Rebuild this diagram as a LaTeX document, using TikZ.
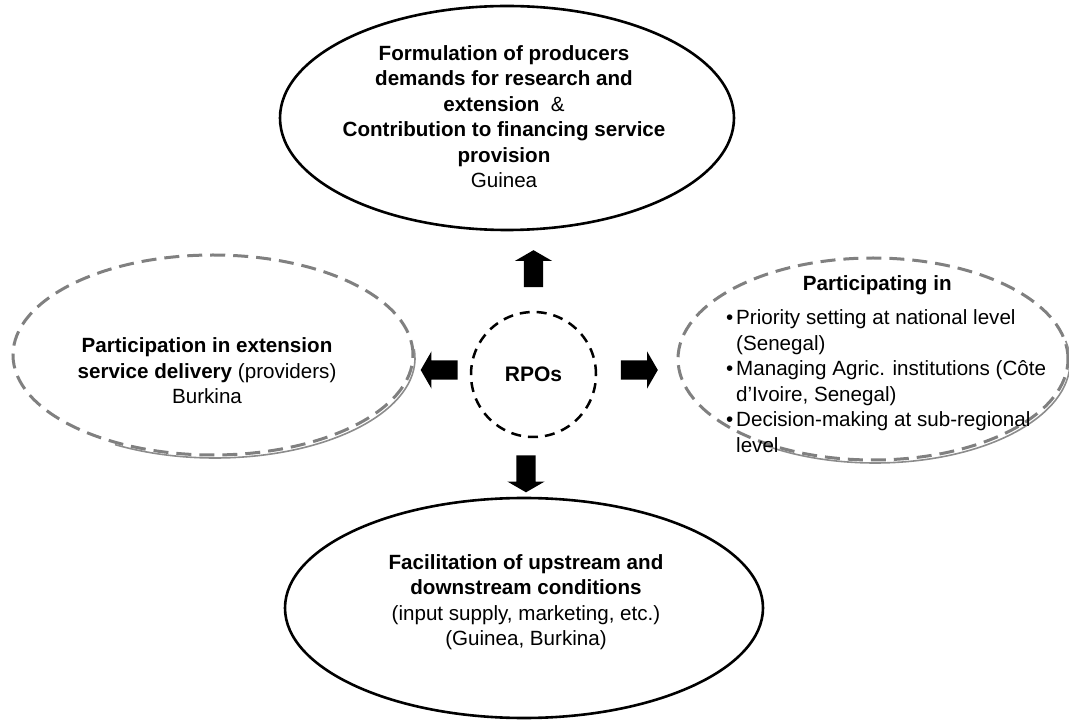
\documentclass[tikz,border=0pt]{standalone}
\usepackage{fontspec}
\setmainfont{Liberation Sans}
\usetikzlibrary{positioning,shapes.geometric,shapes.arrows,calc}

\begin{document}
\begin{tikzpicture}[x=1pt,y=1pt,
        solidell/.style={draw, ellipse, line width=2.6pt, inner sep=0pt},
        grayell/.style={draw=black!50, ellipse, line width=3pt, dash pattern=on 15pt off 8pt, inner sep=0pt},
        shadowline/.style={draw=black!45, line width=1.6pt},
        blockarrow/.style={single arrow, fill=black, inner sep=9.5pt, minimum height=37pt,
            single arrow head extend=9pt, single arrow tip angle=120},
        txt/.style={align=center, font=\fontsize{20.6}{25.5}\selectfont, inner sep=0pt}]
    \useasboundingbox (0,0) rectangle (1069,721);
    % the four fields round the RPOs
    \node[solidell, minimum width=454pt, minimum height=224pt] (top) at (507,603) {};
    \node[grayell, minimum width=400pt, minimum height=200pt] (lft) at (213,366) {};
    \node[grayell, minimum width=390pt, minimum height=202pt] (rgt) at (873,362) {};
    \node[solidell, minimum width=478pt, minimum height=220pt] (bot) at (524,113) {};
    \draw[shadowline] ($(lft.center)+(2,-3)$) ++(5:200 and 100) arc[start angle=5, end angle=-120, x radius=200, y radius=100];
    \draw[shadowline] ($(rgt.center)+(2,-3)$) ++(12:195 and 101) arc[start angle=12, end angle=-125, x radius=195, y radius=101];
    \node[draw, circle, line width=2.5pt, dash pattern=on 10pt off 7pt, minimum size=125pt] (rpo) at (533.5,346.5)
        {\fontsize{21}{25.5}\selectfont\bfseries RPOs};
    \node[txt] (top-txt) at (504,604.5) {\textbf{Formulation of producers}\\ \textbf{demands for research and}\\
        \textbf{extension}\ \ \&\\ \textbf{Contribution to financing service}\\ \textbf{provision}\\ Guinea};
    \node[txt] (lft-txt) at (207,350) {\textbf{Participation in extension}\\ \textbf{service delivery} (providers)\\ Burkina};
    \node[txt, align=left, anchor=north west] (rgt-txt) at (726,445.5) {\makebox[302pt]{\bfseries Participating in}\\[8.5pt]
        \makebox[10pt][l]{•}Priority setting at national level\\
        \hspace*{10pt}(Senegal)\\
        \makebox[10pt][l]{•}Managing Agric. institutions (Côte\\
        \hspace*{10pt}d’Ivoire, Senegal)\\
        \makebox[10pt][l]{•}Decision-making at sub-regional\\
        \hspace*{10pt}level};
    \node[txt] (bot-txt) at (526,119) {\textbf{Facilitation of upstream and}\\ \textbf{downstream conditions}\\
        (input supply, marketing, etc.)\\ (Guinea, Burkina)};
    % block arrows
    \node[blockarrow, shape border rotate=90] (to-top) at (533.5,449.5) {};
    \node[blockarrow, shape border rotate=180] (to-lft) at (442,351) {};
    \node[blockarrow, shape border rotate=0] (to-rgt) at (636.5,351) {};
    \node[blockarrow, shape border rotate=270] (to-bot) at (526,250) {};
\end{tikzpicture}
\end{document}
